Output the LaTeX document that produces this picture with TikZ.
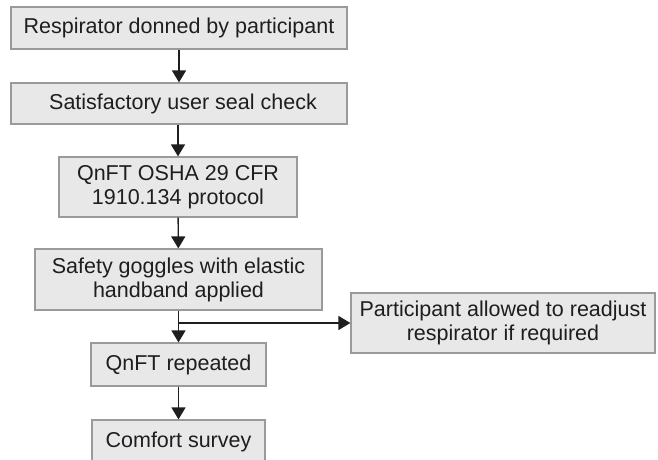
\documentclass[tikz,border=0pt]{standalone}
\usepackage{fontspec}
\setmainfont{Liberation Sans}
\usetikzlibrary{arrows.meta}
\definecolor{boxfill}{HTML}{E8E8E8}
\definecolor{boxline}{HTML}{9A9A9A}
\definecolor{ink}{HTML}{1E1E1E}
\tikzset{>={Triangle[width=14pt,length=12pt]}}
\tikzset{stepbox/.style={draw=boxline, fill=boxfill, line width=1.2pt, inner sep=0pt,
  align=center, text=ink, font=\fontsize{21.5}{24}\selectfont}}
\tikzset{flow/.style={->, draw=ink, line width=1.4pt}}

\begin{document}
\begin{tikzpicture}[x=1pt,y=-1pt]
\path[use as bounding box] (0,0) rectangle (658,459);
\node[stepbox, minimum width=336pt, minimum height=42pt] (donned) at (179,28) {Respirator donned by participant};
\node[stepbox, minimum width=336pt, minimum height=41pt] (seal) at (179,103.5) {\hspace{8pt}Satisfactory user seal check};
\node[stepbox, minimum width=238pt, minimum height=60pt] (osha) at (178,187) {QnFT OSHA 29 CFR\\1910.134 protocol};
\node[stepbox, minimum width=287pt, minimum height=61pt] (goggles) at (178.5,279.5) {Safety goggles with elastic\\handband applied};
\node[stepbox, minimum width=304pt, minimum height=60pt] (readjust) at (503,323) {Participant allowed to readjust\\respirator if required};
\node[stepbox, minimum width=175pt, minimum height=43pt] (repeat) at (178.5,364.5) {QnFT repeated};
\node[stepbox, minimum width=173pt, minimum height=44pt] (survey) at (178.5,442) {Comfort survey};
\coordinate (split) at (goggles.south |- readjust.west);
\draw[flow] (donned) -- (seal);
\draw[flow] (seal.south -| osha.north) -- (osha);
\draw[flow] (osha) -- (goggles);
\draw[flow] (goggles) -- (repeat);
\draw[flow] (split) -- (readjust);
\draw[flow] (repeat) -- (survey);
\end{tikzpicture}
\end{document}
